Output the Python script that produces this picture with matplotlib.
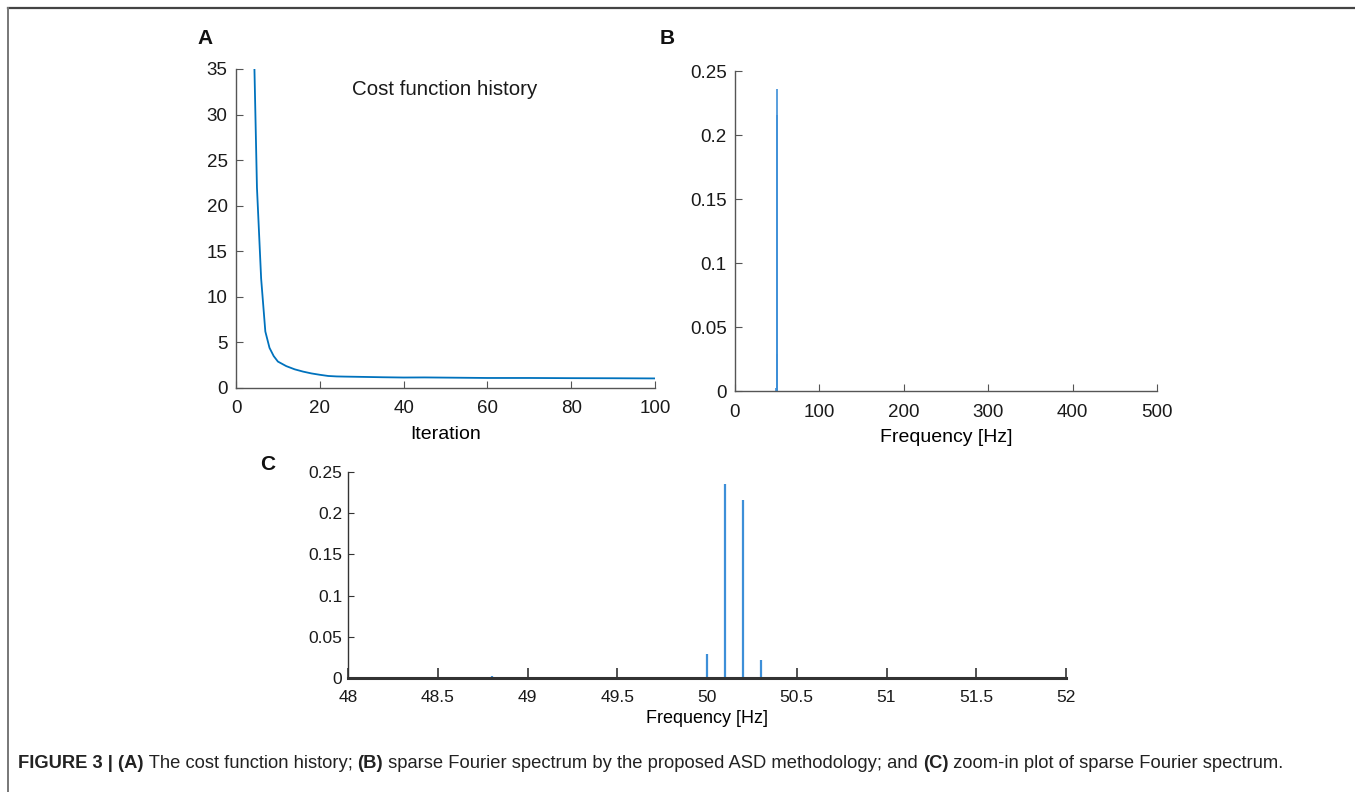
import matplotlib
matplotlib.use("Agg")
import matplotlib.pyplot as plt
from matplotlib.lines import Line2D

plt.rcParams["font.family"] = ["Liberation Sans", "DejaVu Sans"]

# panel A: cost function history
iter_pts = [4, 5, 6, 7, 8, 9, 10, 12, 14, 16, 18, 20, 22, 24, 26, 30, 35, 40,
            45, 50, 60, 70, 80, 90, 100]
cost_vals = [43.7, 22.0, 12.0, 6.2, 4.4, 3.5, 2.9, 2.4, 2.05, 1.8, 1.6, 1.45,
             1.32, 1.27, 1.25, 1.22, 1.18, 1.15, 1.16, 1.14, 1.10, 1.10, 1.08,
             1.07, 1.05]

# panels B/C: sparse spectrum peaks
peak_freqs = [48.8, 50.0, 50.1, 50.2, 50.3]
peak_amps = [0.002, 0.029, 0.236, 0.216, 0.022]

amp_ticks = [0, 0.05, 0.1, 0.15, 0.2, 0.25]
amp_labels = ["0", "0.05", "0.1", "0.15", "0.2", "0.25"]
zoom_ticks = [48, 48.5, 49, 49.5, 50, 50.5, 51, 51.5, 52]
zoom_labels = ["48", "48.5", "49", "49.5", "50", "50.5", "51", "51.5", "52"]

W, H = 1355, 792
fig = plt.figure(figsize=(W / 100, H / 100), dpi=100)

# open frame (top + left)
fig.add_artist(Line2D([8 / W, 1.0], [1 - 8 / H, 1 - 8 / H], color="#444444", lw=1.6))
fig.add_artist(Line2D([8 / W, 8 / W], [0, 1 - 8 / H], color="#777777", lw=1.4))


def style(ax, lw=1.0, col="#555555"):
    for s in ("top", "right"):
        ax.spines[s].set_visible(False)
    for s in ("left", "bottom"):
        ax.spines[s].set_color(col)
        ax.spines[s].set_linewidth(lw)
    ax.tick_params(direction="in", color=col, labelcolor="#1a1a1a")


blue = "#0072BD"
spike = "#3d8fd8"

# A
axA = fig.add_axes([236 / W, 1 - 388 / H, 419 / W, 319 / H])
axA.plot(iter_pts, cost_vals, color=blue, lw=1.3, clip_on=True)
axA.set_xlim(0, 100)
axA.set_ylim(0, 35)
axA.set_xticks(range(0, 101, 20))
axA.set_yticks(range(0, 36, 5))
style(axA)
axA.tick_params(labelsize=13.5, length=5, pad=6)
axA.tick_params(axis="x", pad=9)
axA.set_xlabel("Iteration", fontsize=14, labelpad=6)
axA.text(0.4976, 0.937, "Cost function history", transform=axA.transAxes,
         fontsize=14.8, ha="center", va="center", color="#1a1a1a")

# B
axB = fig.add_axes([735 / W, 1 - 391 / H, 422 / W, 320 / H])
axB.vlines(peak_freqs, 0, peak_amps, color=spike, lw=1.2)
axB.set_xlim(0, 500)
axB.set_ylim(0, 0.25)
axB.set_xticks(range(0, 501, 100))
axB.set_yticks(amp_ticks)
axB.set_yticklabels(amp_labels)
style(axB)
axB.tick_params(labelsize=13.5, length=5, pad=6)
axB.tick_params(axis="x", pad=9)
axB.set_xlabel("Frequency [Hz]", fontsize=14, labelpad=6)

# C
axC = fig.add_axes([348 / W, 1 - 678 / H, 718 / W, 206 / H])
axC.vlines(peak_freqs, 0, peak_amps, color=spike, lw=1.6)
axC.set_xlim(48, 52)
axC.set_ylim(0, 0.25)
axC.set_xticks(zoom_ticks)
axC.set_yticks(amp_ticks)
style(axC, lw=1.0, col="#333333")
axC.spines["bottom"].set_linewidth(2.2)
axC.set_xticklabels(zoom_labels, fontsize=12.5)
axC.set_yticklabels(amp_labels, fontsize=12.5)
axC.tick_params(axis="x", length=7, width=1.2, pad=9)
axC.tick_params(axis="y", length=4, pad=4)
axC.set_xlabel("Frequency [Hz]", fontsize=13, labelpad=3)

# panel letters
for lab, x, y in (("A", 205, 38), ("B", 667, 38), ("C", 268, 465)):
    fig.text(x / W, 1 - y / H, lab, fontsize=15, fontweight="bold",
             ha="center", va="center", color="#111111")

# caption with mixed weights
pieces = [("FIGURE 3 | (A)", "bold"), (" The cost function history; ", "normal"),
          ("(B)", "bold"), (" sparse Fourier spectrum by the proposed ASD methodology; and ", "normal"),
          ("(C)", "bold"), (" zoom-in plot of sparse Fourier spectrum.", "normal")]
renderer = fig.canvas.get_renderer()
x = 18 / W
for txt, wt in pieces:
    t = fig.text(x, 1 - 764 / H, txt, fontsize=13.2, fontweight=wt,
                 ha="left", va="center", color="#222222")
    bb = t.get_window_extent(renderer=renderer)
    x = bb.x1 / W

fig.savefig("out.png", dpi=100)
